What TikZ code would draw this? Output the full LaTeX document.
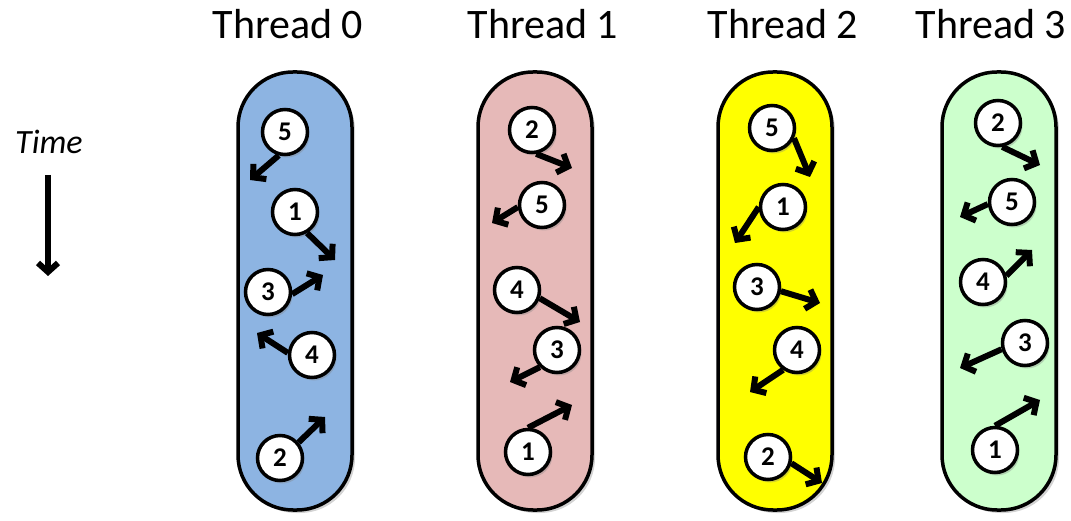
\documentclass[tikz,border=0pt]{standalone}
\usepackage{fontspec}
\setmainfont{Carlito}
\usetikzlibrary{arrows.meta, shadows}

\definecolor{threadblue}{RGB}{141,180,226}
\definecolor{threadpink}{RGB}{230,185,184}
\definecolor{threadyellow}{RGB}{255,255,0}
\definecolor{threadgreen}{RGB}{204,255,204}

\begin{document}
\begin{tikzpicture}[x=1pt, y=-1pt,
		lane/.style={draw, line width=3.5pt, rounded corners=55pt, minimum width=114pt, minimum height=438pt, inner sep=0pt,
			drop shadow={shadow xshift=3pt, shadow yshift=-3pt, opacity=0.35}},
		job/.style={circle, draw, fill=white, line width=3.5pt, minimum size=45pt, inner sep=0pt,
			font=\bfseries\fontsize{27}{27}\selectfont,
			drop shadow={shadow xshift=2pt, shadow yshift=-3pt, opacity=0.35}},
		move/.style={line width=6pt, -{Straight Barb[length=9pt, width=20pt]}},
		title/.style={anchor=base, font=\fontsize{42}{42}\selectfont}]
	\useasboundingbox (0,0) rectangle (1071,521);
	
	%time axis
	\node[anchor=base, font=\itshape\fontsize{34}{34}\selectfont] (time) at (49,154){Time};
	\coordinate (timetop) at (48,175);
	\coordinate (timebot) at (48,276);
	\draw[move] (timetop) -- (timebot);
	
	%threads
	\node[title] (title0) at (288,39){Thread 0};
	\node[title] (title1) at (543,39){Thread 1};
	\node[title] (title2) at (783,39){Thread 2};
	\node[title] (title3) at (991,39){Thread 3};
	\node[lane, fill=threadblue] (lane0) at (295,291){};
	\node[lane, fill=threadpink] (lane1) at (535,291){};
	\node[lane, fill=threadyellow] (lane2) at (775,291){};
	\node[lane, fill=threadgreen] (lane3) at (999,291){};
	
	%jobs: thread/number/position/start angle/where the arrow goes
	\foreach \t/\n/\x/\y/\a/\tx/\ty in {
			0/5/285/132/255/250/180, 0/1/295/212/300/335/260, 0/3/268/292/-5/323/275,
			0/4/312/355/175/257/333, 0/2/280/458/40/325/417,
			1/2/532/130/280/572/168, 1/5/542/205/185/492/223, 1/4/517/290/-20/580/322,
			1/3/557/350/225/510/382, 1/1/528/452/90/572/405,
			2/5/772/128/-25/810/177, 2/1/783/207/180/735/243, 2/3/757/287/-10/820/303,
			2/4/797/350/235/750/392, 2/2/768/457/-15/822/483,
			3/2/998/123/280/1040/165, 3/5/1012/202/185/960/217, 3/4/983/282/15/1032/250,
			3/3/1025/343/195/960/368, 3/1/995/450/90/1040/400}{
		\node[job] (t\t j\n) at (\x,\y){\n};
		\coordinate (t\t j\n end) at (\tx,\ty);
		\draw[move] (t\t j\n.\a) -- (t\t j\n end);
	}
\end{tikzpicture}
\end{document}
